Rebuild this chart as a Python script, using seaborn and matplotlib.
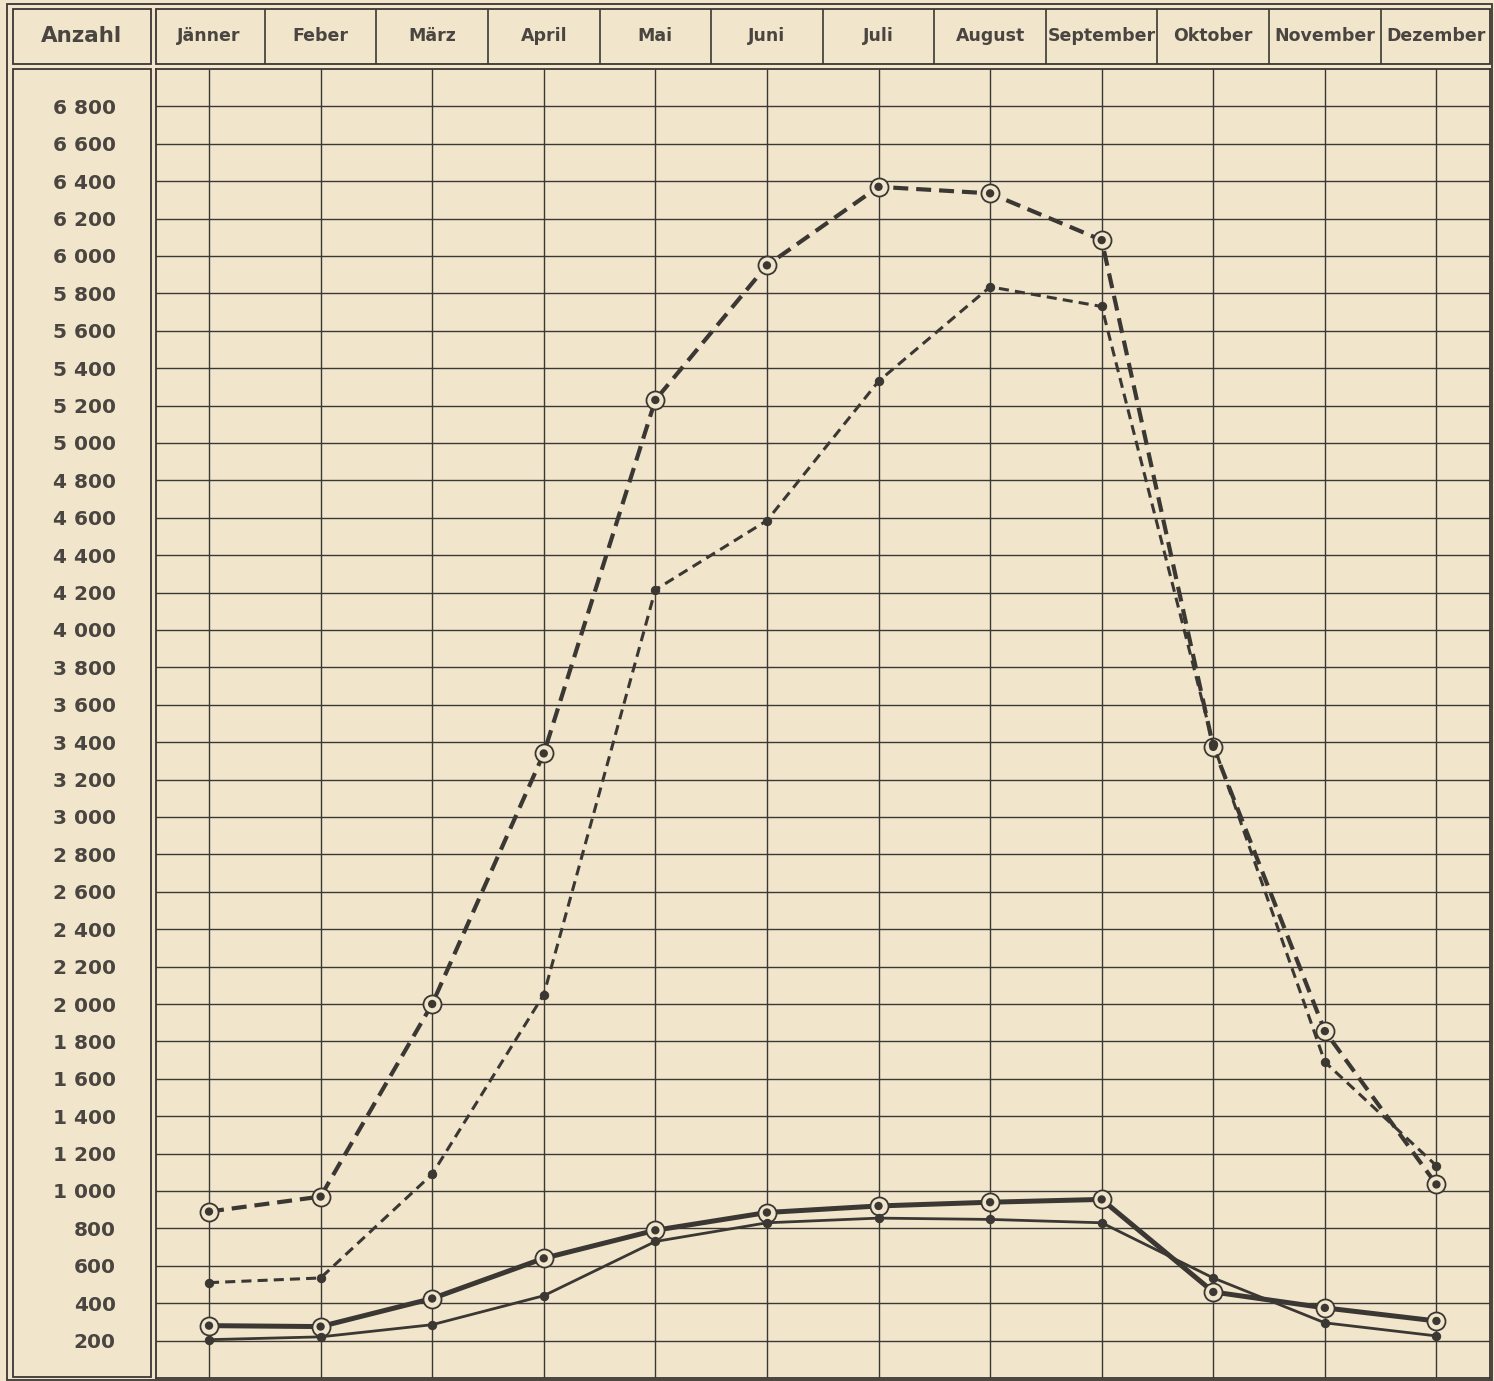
import numpy as np
import pandas as pd
import matplotlib.pyplot as plt
import seaborn as sns
from matplotlib.patches import Rectangle

# Monate (Kopfzeile)
monate = ['Jänner', 'Feber', 'März', 'April', 'Mai', 'Juni', 'Juli',
          'August', 'September', 'Oktober', 'November', 'Dezember']

# Werte
gestrichelt_dick = [890, 970, 2000, 3340, 5230, 5950, 6370, 6335, 6085, 3375, 1855, 1035]
gestrichelt_duenn = [510, 535, 1090, 2050, 4215, 4585, 5330, 5835, 5730, 3390, 1690, 1135]
voll_dick = [280, 275, 425, 640, 790, 885, 920, 940, 955, 460, 375, 305]
voll_duenn = [205, 220, 285, 440, 730, 830, 855, 848, 830, 535, 295, 225]

y_werte = list(range(200, 7000, 200))
y_texte = [f"{v:,}".replace(',', ' ') for v in y_werte]

papier = '#f1e6cc'
tinte = '#3b3733'
schrift = '#4a4540'

W, H = 1494, 1381
fig = plt.figure(figsize=(W / 100, H / 100), dpi=100, facecolor=papier)
plt.rcParams['font.family'] = ['DejaVu Sans']
plt.rcParams['font.weight'] = 'bold'

# Diagrammfläche
ax = fig.add_axes([156 / W, 1 - 1378 / H, (1490 - 156) / W, (1378 - 69) / H])
ax.set_facecolor(papier)

df = pd.DataFrame({'monat': np.arange(12),
                   'gestrichelt_dick': gestrichelt_dick,
                   'gestrichelt_duenn': gestrichelt_duenn,
                   'voll_dick': voll_dick,
                   'voll_duenn': voll_duenn})

# Linien: gestrichelt / voll, dick mit Ringmarke, dünn mit Punkt
stile = {
    'gestrichelt_dick': dict(lw=3.0, ls=(0, (3.6, 1.9)), ring=True),
    'gestrichelt_duenn': dict(lw=2.2, ls=(0, (3.3, 2.0)), ring=False),
    'voll_dick': dict(lw=3.6, ls='-', ring=True),
    'voll_duenn': dict(lw=2.0, ls='-', ring=False),
}

for name, st in stile.items():
    if st['ring']:
        sns.lineplot(data=df, x='monat', y=name, ax=ax, color=tinte,
                     lw=st['lw'], linestyle=st['ls'], marker='o', ms=13,
                     mfc=papier, mec=tinte, mew=1.3, zorder=3)
        sns.scatterplot(data=df, x='monat', y=name, ax=ax, color=tinte,
                        s=36, edgecolor='none', zorder=4)
    else:
        sns.lineplot(data=df, x='monat', y=name, ax=ax, color=tinte,
                     lw=st['lw'], linestyle=st['ls'], marker='o', ms=6,
                     mfc=tinte, mec=tinte, zorder=3)

ax.set_xlim(-0.475, 11.48)
ax.set_ylim(0, 7000)
ax.set_xticks(range(12))
ax.set_xticklabels(monate)
ax.set_yticks(y_werte)
ax.set_yticklabels(y_texte)
ax.set_xlabel('')
ax.set_ylabel('')
ax.grid(True, color=tinte, lw=1.0)
ax.set_axisbelow(True)
ax.xaxis.tick_top()
ax.tick_params(axis='x', length=0, pad=23.8, labelsize=12.5, labelcolor=schrift)
ax.tick_params(axis='y', length=0, pad=29, labelsize=14.5, labelcolor=schrift)
for t in ax.get_xticklabels():
    t.set_va('center')
for s in ax.spines.values():
    s.set_color(tinte)
    s.set_linewidth(1.3)

# Trennstriche der Kopfzeile
ax.vlines(np.arange(11) + 0.5, 1 + 5 / 1309, 1 + 60 / 1309,
          transform=ax.get_xaxis_transform(), clip_on=False,
          color=tinte, lw=1.2)

# Rahmen
ov = fig.add_axes([0, 0, 1, 1], facecolor='none')
ov.set_xlim(0, W)
ov.set_ylim(H, 0)
ov.axis('off')
rahmen = [(7, 4, 1492, 1380), (13, 9, 151, 64), (156, 9, 1490, 64), (13, 69, 151, 1377)]
for x0, y0, x1, y1 in rahmen:
    ov.add_patch(Rectangle((x0, y0), x1 - x0, y1 - y0, fill=False, ec=tinte, lw=1.3))
ov.text(81, 36, 'Anzahl', ha='center', va='center', fontsize=15.5, color=schrift)

fig.savefig('out.png', dpi=100, facecolor=papier)
